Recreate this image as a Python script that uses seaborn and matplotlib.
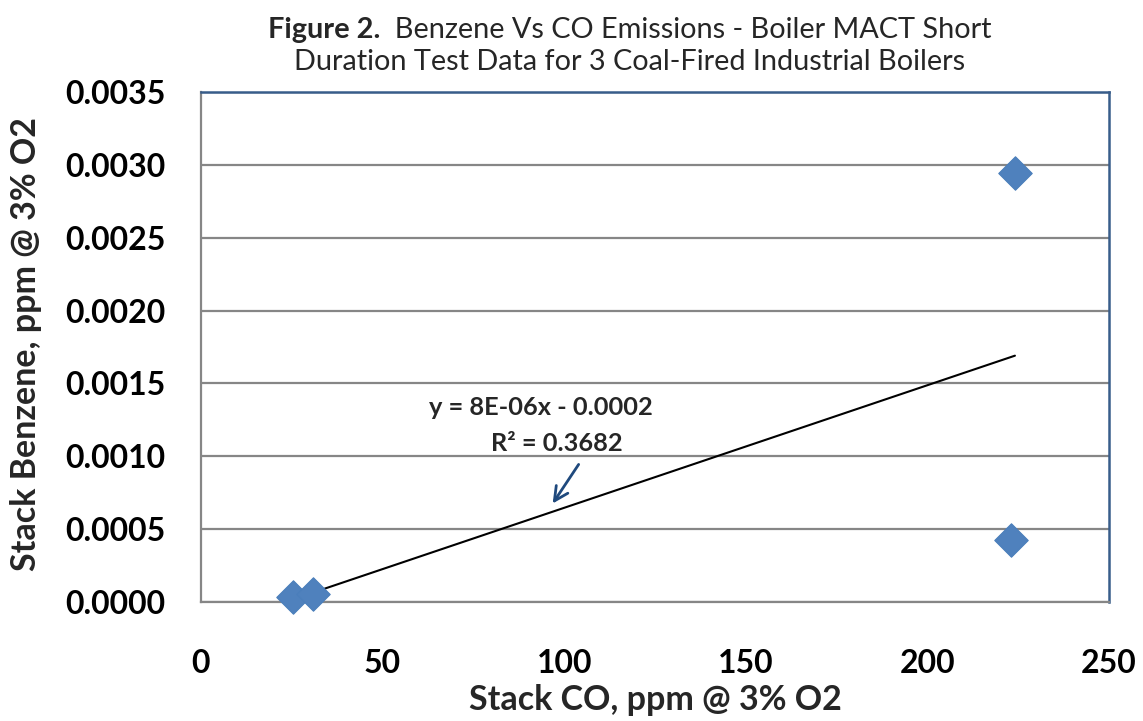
import numpy as np
import pandas as pd
import matplotlib
matplotlib.use("Agg")
import matplotlib.pyplot as plt
import seaborn as sns

# Short-duration boiler test results
stack_co = [25.3, 30.8, 224.1, 223.0]            # ppm @ 3% O2
stack_benzene = [0.000034, 0.000055, 0.002942, 0.000423]  # ppm @ 3% O2
x_ticks = [0, 50, 100, 150, 200, 250]
y_ticks = [0.0, 0.0005, 0.0010, 0.0015, 0.0020, 0.0025, 0.0030, 0.0035]
trend_eq = "y = 8E-06x - 0.0002"
trend_r2 = "R\u00b2 = 0.3682"

df = pd.DataFrame({"co": stack_co, "benzene": stack_benzene})

sns.set_theme(style="white")
plt.rcParams["font.family"] = ["Lato", "DejaVu Sans"]

W, H = 1143, 721
fig = plt.figure(figsize=(W / 100, H / 100), dpi=100)
ax = fig.add_axes([201 / W, 1 - 602 / H, (1109 - 201) / W, (602 - 92) / H])

grid_c = "#868686"
frame_c = "#385D8A"
ax.set_xlim(0, 250)
ax.set_ylim(0, 0.0035)
ax.set_yticks(y_ticks)
ax.set_xticks(x_ticks)
ax.set_yticklabels([f"{v:.4f}" for v in y_ticks])
ax.set_xticklabels([str(v) for v in x_ticks])
ax.yaxis.grid(True, color=grid_c, linewidth=1.6)
ax.xaxis.grid(False)
ax.set_axisbelow(True)

for side in ("left", "bottom"):
    ax.spines[side].set_color(grid_c)
    ax.spines[side].set_linewidth(1.6)
for side in ("top", "right"):
    ax.spines[side].set_color(frame_c)
    ax.spines[side].set_linewidth(1.8)

ax.tick_params(axis="both", which="major", direction="out", length=8.5,
               width=1.6, color=grid_c, labelsize=23, labelcolor="black")
ax.tick_params(axis="y", pad=17)
ax.tick_params(axis="x", pad=25)
for lab in ax.get_xticklabels() + ax.get_yticklabels():
    lab.set_fontweight("bold")

# Linear trend line over the range of the data
slope, intercept = np.polyfit(stack_co, stack_benzene, 1)
xs = np.array([min(stack_co), max(stack_co)])
ax.plot(xs, slope * xs + intercept, color="black", linewidth=1.5, zorder=2)

sns.scatterplot(data=df, x="co", y="benzene", marker="D", s=290,
                color="#4F81BD", edgecolor="#4A7EBB", linewidth=0.8,
                ax=ax, zorder=3, clip_on=False)

ax.set_xlabel("Stack CO, ppm @ 3% O2", fontsize=24.5, fontweight="bold",
              va="center")
ax.xaxis.set_label_coords(0.501, -0.192)
ax.set_ylabel("Stack Benzene, ppm @ 3% O2", fontsize=24.5, fontweight="bold",
              va="center")
ax.yaxis.set_label_coords(-0.193, 0.505)

ax.text(93.6, 0.001334, trend_eq, ha="center", va="center", fontsize=18.3,
        fontweight="bold")
ax.text(98.0, 0.001087, trend_r2, ha="center", va="center", fontsize=18.3,
        fontweight="bold")
ax.annotate("", xy=(96.4, 0.00066), xytext=(104.4, 0.00096),
            arrowprops=dict(arrowstyle="->", color="#1F497D", lw=2,
                            mutation_scale=25))

# Two-line title: bold lead-in on the first line
fig.canvas.draw()
renderer = fig.canvas.get_renderer()
title_fs = 20.8
cx = 630 / W
y1 = 1 - 30 / H
y2 = 1 - 62 / H
t_bold = fig.text(0, y1, "Figure 2.", fontsize=title_fs, fontweight="bold",
                  ha="left", va="center")
t_rest = fig.text(0, y1, "  Benzene Vs CO Emissions - Boiler MACT Short",
                  fontsize=title_fs, ha="left", va="center")
wb = t_bold.get_window_extent(renderer).width / W
wr = t_rest.get_window_extent(renderer).width / W
x0 = cx - (wb + wr) / 2
t_bold.set_x(x0)
t_rest.set_x(x0 + wb)
fig.text(cx, y2, "Duration Test Data for 3 Coal-Fired Industrial Boilers",
         fontsize=title_fs, ha="center", va="center")

fig.savefig("out.png", dpi=100, facecolor="white")
